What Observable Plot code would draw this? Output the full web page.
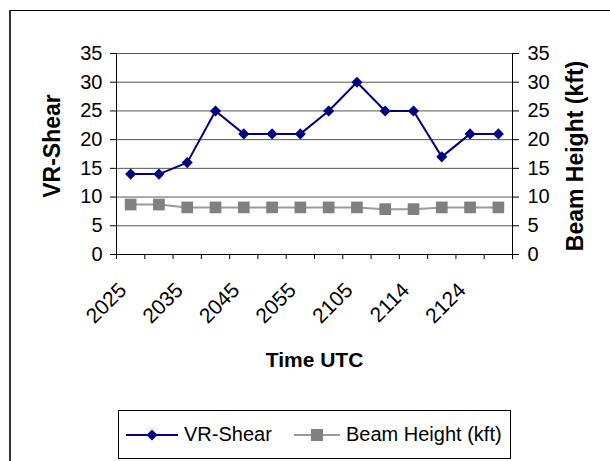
<!DOCTYPE html>
<html><head><meta charset="utf-8">
<script src="https://cdn.jsdelivr.net/npm/d3@7"></script>
<script src="https://cdn.jsdelivr.net/npm/@observablehq/plot@0.6"></script>
<style>
body{margin:0;background:#fff;font-family:"Liberation Sans",Arial,sans-serif;}
#wrap{position:relative;width:610px;height:461px;overflow:hidden;background:#fff;}
#border{position:absolute;left:9px;top:10px;width:700px;height:600px;border-left:2px solid #333;border-top:1px solid #000;}
#chart{position:absolute;left:0;top:0;}
#legend{position:absolute;left:118px;top:410px;width:391px;height:47px;border:1px solid #000;background:#fff;}
.item{position:absolute;top:0;height:47px;display:flex;align-items:center;font-size:20px;color:#000;white-space:nowrap;}
.item svg{display:block;margin-right:6px;}
</style></head>
<body>
<div id="wrap"><div id="border"></div><div id="chart"></div><div id="legend"></div></div>
<script>
const times = ["2025","2030","2035","2040","2045","2050","2055","2100","2105","2110","2114","2119","2124","2129"];
const vrShear = [14, 14, 16, 25, 21, 21, 21, 25, 30, 25, 25, 17, 21, 21];
const beamHeight = [8.7, 8.7, 8.2, 8.2, 8.2, 8.2, 8.2, 8.2, 8.2, 7.9, 7.9, 8.2, 8.2, 8.2];
const yTicks = [0, 5, 10, 15, 20, 25, 30, 35];
const seriesNames = ["VR-Shear", "Beam Height (kft)"];
const seriesColors = ["#000080", "#808080"];
const lineColors = ["#000080", "#9a9a9a"];
const seriesSymbols = ["diamond2", "square"];
const xTitle = "Time UTC";
const yTitle = "VR-Shear";
const y2Title = "Beam Height (kft)";

const idx = d3.range(times.length);
const vrData = idx.map(i => ({i, v: vrShear[i]}));
const bhData = idx.map(i => ({i, v: beamHeight[i]}));
const boundaries = d3.range(times.length + 1).map(i => i - 0.5);
const labelIdx = idx.filter(i => i % 2 === 0);
const font = "Liberation Sans, Arial, sans-serif";

const plot = Plot.plot({
  width: 610, height: 400,
  marginLeft: 116, marginRight: 98, marginTop: 53, marginBottom: 146,
  style: {fontFamily: font, fontSize: "20px", color: "#000", background: "transparent", overflow: "visible"},
  x: {type: "linear", domain: [boundaries[0], boundaries[boundaries.length - 1]]},
  y: {domain: [0, 35]},
  marks: [
    Plot.gridY(yTicks, {stroke: "#555", strokeOpacity: 1, strokeWidth: 1}),
    Plot.ruleY([0], {stroke: "#000"}),
    Plot.ruleX([boundaries[0], boundaries[boundaries.length - 1]], {stroke: "#000"}),
    Plot.axisY(yTicks, {anchor: "left", tickSize: 6, tickPadding: 8, label: null, fontSize: 20, stroke: "#000"}),
    Plot.axisY(yTicks, {anchor: "right", tickSize: 6, tickPadding: 9, label: null, fontSize: 20, stroke: "#000"}),
    Plot.axisX(boundaries, {anchor: "bottom", tickSize: 5, tickFormat: () => "", label: null, stroke: "#000"}),
    Plot.text(labelIdx, {x: d => d, y: 0, text: d => times[d], rotate: -45, textAnchor: "end", lineAnchor: "bottom", dx: -3, dy: 37, fontSize: 21}),
    Plot.text([yTitle], {frameAnchor: "left", text: d => d, textAnchor: "middle", dx: -64, dy: -8, rotate: -90, fontWeight: "bold", fontSize: 23}),
    Plot.text([y2Title], {frameAnchor: "right", text: d => d, textAnchor: "middle", dx: 63, dy: 2, rotate: -90, fontWeight: "bold", fontSize: 23}),
    Plot.text([xTitle], {frameAnchor: "bottom", text: d => d, dy: 112, fontWeight: "bold", fontSize: 21}),
    Plot.line(bhData, {x: "i", y: "v", stroke: lineColors[1], strokeWidth: 2}),
    Plot.dot(bhData, {x: "i", y: "v", symbol: seriesSymbols[1], r: 6.6, fill: seriesColors[1], stroke: "none"}),
    Plot.line(vrData, {x: "i", y: "v", stroke: lineColors[0], strokeWidth: 2}),
    Plot.dot(vrData, {x: "i", y: "v", symbol: seriesSymbols[0], r: 5, fill: seriesColors[0], stroke: "none"})
  ]
});
document.getElementById("chart").appendChild(plot);

// legend
const legend = document.getElementById("legend");
const lefts = [7, 175];
const lineW = [52, 46];
const symbolTypes = {diamond2: d3.symbolDiamond2, square: d3.symbolSquare};
const symbolSizes = [77, 144];
seriesNames.forEach((name, k) => {
  const item = document.createElement("div");
  item.className = "item";
  item.style.left = lefts[k] + "px";
  const w = lineW[k];
  const sym = d3.symbol(symbolTypes[seriesSymbols[k]], symbolSizes[k])();
  item.innerHTML = `<svg width="${w}" height="20"><line x1="0" x2="${w}" y1="10" y2="10" stroke="${lineColors[k]}" stroke-width="2"/><path d="${sym}" transform="translate(${w/2},10)" fill="${seriesColors[k]}"/></svg><span>${name}</span>`;
  legend.appendChild(item);
});
</script>
</body></html>
